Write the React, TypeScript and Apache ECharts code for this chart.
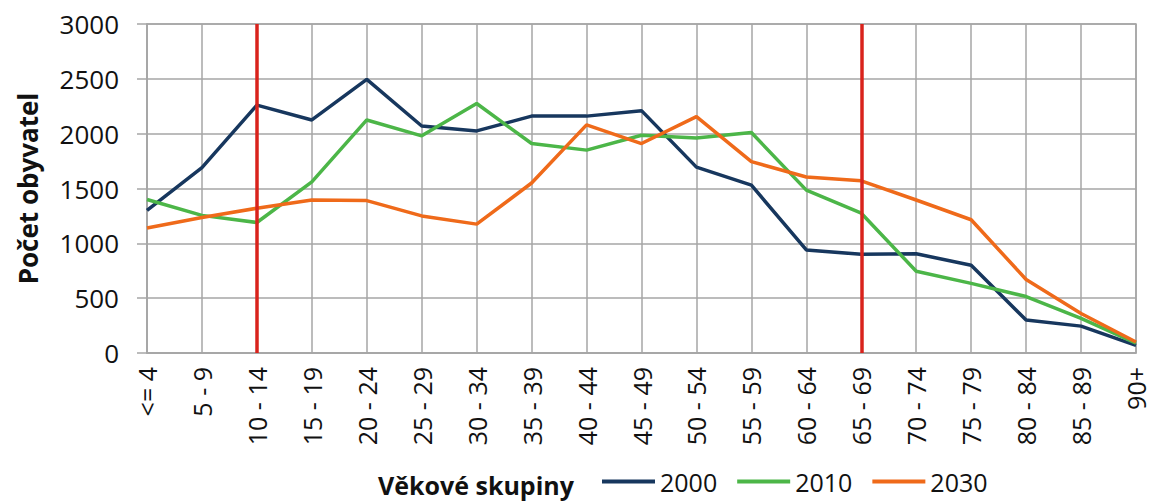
import React, { useEffect, useRef } from "react";
import * as echarts from "echarts";

const categories = [
  "<= 4", "5 - 9", "10 - 14", "15 - 19", "20 - 24", "25 - 29", "30 - 34", "35 - 39",
  "40 - 44", "45 - 49", "50 - 54", "55 - 59", "60 - 64", "65 - 69", "70 - 74",
  "75 - 79", "80 - 84", "85 - 89", "90+",
];
const s2000 = [1300, 1690, 2260, 2125, 2495, 2070, 2025, 2160, 2160, 2210, 1695, 1530, 940, 900, 905, 800, 300, 245, 70];
const s2010 = [1400, 1255, 1190, 1560, 2125, 1980, 2275, 1910, 1850, 1985, 1960, 2010, 1485, 1275, 745, 635, 515, 315, 90];
const s2030 = [1140, 1235, 1320, 1395, 1390, 1250, 1175, 1550, 2080, 1910, 2155, 1745, 1605, 1570, 1395, 1215, 670, 360, 100];
const yTicks = { min: 0, max: 3000, interval: 500 };
const markCategories = ["10 - 14", "65 - 69"];

const FONT = "'Open Sans', 'DejaVu Sans', sans-serif";

export default function App() {
  const ref = useRef<HTMLDivElement>(null);
  useEffect(() => {
    if (!ref.current) return;
    const chart = echarts.init(ref.current, null, { renderer: "svg" });
    const grid = "#a6a6a6";
    chart.setOption({
      animation: false,
      backgroundColor: "#ffffff",
      grid: { left: 147, right: 13, top: 24, bottom: 149, show: true, borderColor: grid, borderWidth: 1.5 },
      legend: {
        left: 597,
        top: 464,
        itemGap: 20,
        itemWidth: 53,
        itemHeight: 4,
        icon: "rect",
        textStyle: { fontFamily: FONT, fontSize: 25, color: "#111" },
        data: ["2000", "2010", "2030"],
      },
      graphic: [
        {
          type: "text",
          left: 378,
          top: 472,
          style: { text: "Věkové skupiny", fontFamily: FONT, fontSize: 25, fontWeight: "bold", fill: "#111" },
        },
      ],
      xAxis: {
        type: "category",
        data: categories,
        boundaryGap: false,
        axisLine: { lineStyle: { color: grid, width: 1.5 } },
        axisTick: { show: false },
        splitLine: { show: true, lineStyle: { color: grid, width: 1.5 } },
        axisLabel: { rotate: 90, interval: 0, margin: 14, fontFamily: FONT, fontSize: 25, color: "#111", lineHeight: 20 },
      },
      yAxis: {
        type: "value",
        min: yTicks.min,
        max: yTicks.max,
        interval: yTicks.interval,
        name: "Počet obyvatel",
        nameLocation: "middle",
        nameGap: 106,
        nameTextStyle: { fontFamily: FONT, fontSize: 26, fontWeight: "bold", color: "#111" },
        axisLine: { show: true, lineStyle: { color: grid, width: 1.5 } },
        axisTick: { show: true, length: 10, lineStyle: { color: grid, width: 1.5 } },
        splitLine: { show: true, lineStyle: { color: grid, width: 1.5 } },
        axisLabel: { margin: 28, fontFamily: FONT, fontSize: 26, color: "#111", formatter: (v: number) => String(v) },
      },
      series: [
        {
          name: "2000",
          type: "line",
          data: s2000,
          symbol: "none",
          lineStyle: { color: "#17375e", width: 3.5 },
          itemStyle: { color: "#17375e" },
          z: 3,
        },
        {
          name: "2010",
          type: "line",
          data: s2010,
          symbol: "none",
          lineStyle: { color: "#4cb648", width: 3.5 },
          itemStyle: { color: "#4cb648" },
          z: 3,
        },
        {
          name: "2030",
          type: "line",
          data: s2030,
          symbol: "none",
          lineStyle: { color: "#ef6a1a", width: 3.5 },
          itemStyle: { color: "#ef6a1a" },
          z: 3,
          markLine: {
            silent: true,
            symbol: "none",
            label: { show: false },
            lineStyle: { color: "#d9231c", width: 3.5, type: "solid" },
            data: markCategories.map((c) => ({ xAxis: c })),
          },
        },
      ],
    });
    return () => chart.dispose();
  }, []);
  return <div ref={ref} style={{ position: "fixed", left: 0, top: 0, width: 1149, height: 502 }} />;
}
